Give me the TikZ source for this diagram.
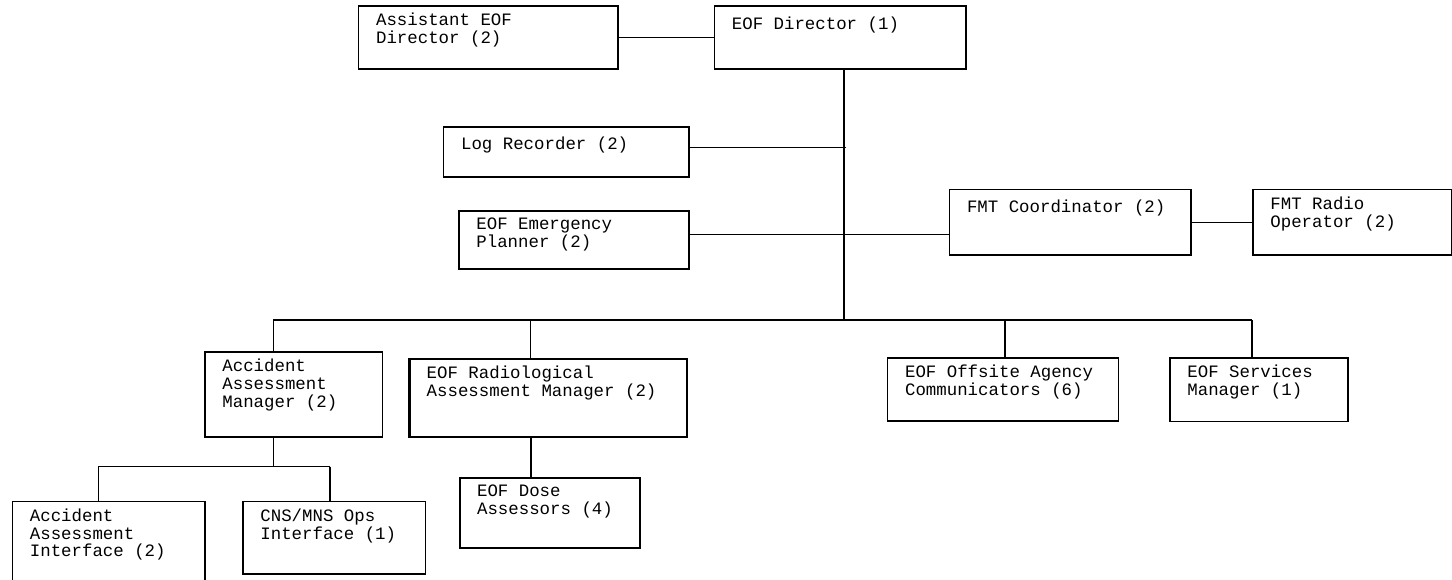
\documentclass[tikz,border=0pt]{standalone}
\usepackage{fontspec}
\setmonofont{Liberation Mono}
\usetikzlibrary{positioning}

\begin{document}
\begin{tikzpicture}[x=0.5pt,y=-0.5pt]
  \tikzstyle{unit}=[rectangle,draw=black,line width=0.75pt,anchor=north west,inner sep=0pt]
  \tikzstyle{heavy}=[unit,line width=1.1pt]
  \tikzstyle{tag}=[anchor=north west,align=left,inner sep=0pt,xshift=9pt,yshift=-3.75pt,font=\ttfamily\fontsize{8.7pt}{8.9pt}\selectfont,execute at begin node={\rule{0pt}{8pt}}]
  \tikzstyle{link}=[line width=0.6pt]
  \tikzstyle{trunkline}=[line width=0.75pt]

  \useasboundingbox (0,0) rectangle (1452,579);

  \begin{scope}
    % top row
    \node [unit,minimum width=129.8pt,minimum height=31.5pt,label={[tag]north west:Assistant EOF\\Director (2)}] (asst) at (357.7,5.3) {};
    \node [unit,minimum width=125.75pt,minimum height=31.5pt,label={[tag]north west:EOF Director (1)}] (dir) at (713.5,5.3) {};
    % staff
    \node [unit,minimum width=122.65pt,minimum height=25pt,label={[tag]north west:Log Recorder (2)}] (log) at (442.7,126) {};
    \node [unit,minimum width=115pt,minimum height=29pt,label={[tag]north west:EOF Emergency\\Planner (2)}] (plan) at (458,210) {};
    \node [unit,minimum width=120.7pt,minimum height=32.65pt,label={[tag]north west:FMT Coordinator (2)}] (fmt) at (948.6,188.7) {};
    \node [unit,minimum width=99.5pt,minimum height=32.65pt,label={[tag]north west:FMT Radio\\Operator (2)}] (radio) at (1252,188.7) {};
    % managers
    \node [unit,minimum width=88.85pt,minimum height=42.5pt,label={[tag]north west:Accident\\Assessment\\Manager (2)}] (aam) at (204,351) {};
    \node [heavy,minimum width=138.85pt,minimum height=39pt,label={[tag]north west:EOF Radiological\\Assessment Manager (2)}] (ram) at (408.3,358) {};
    \node [unit,minimum width=115.5pt,minimum height=31.35pt,label={[tag]north west:EOF Offsite Agency\\Communicators (6)}] (agency) at (886.7,357.3) {};
    \node [unit,minimum width=89pt,minimum height=31.85pt,label={[tag]north west:EOF Services\\Manager (1)}] (svc) at (1169,357) {};
    % bottom row
    \node [unit,minimum width=96.4pt,minimum height=45pt,label={[tag]north west:Accident\\Assessment\\Interface (2)}] (aai) at (11.5,500.7) {};
    \node [unit,minimum width=91.35pt,minimum height=36.3pt,label={[tag]north west:CNS/MNS Ops\\Interface (1)}] (cns) at (242,500.7) {};
    \node [heavy,minimum width=90.15pt,minimum height=35.15pt,label={[tag]north west:EOF Dose\\Assessors (4)}] (dose) at (458.7,476.7) {};
  \end{scope}

  \coordinate (trunk) at (843.9,320);
  \coordinate (logtap) at (845.7,147.3);
  \coordinate (plantap) at (843.9,234.3);
  \coordinate (busL) at (273.3,320);
  \coordinate (busR) at (1252,320);
  \coordinate (tapram) at (530.7,320);
  \coordinate (tapagency) at (1005,320);
  \coordinate (subM) at (273.3,466.7);
  \coordinate (subL) at (98.3,466.7);
  \coordinate (subR) at (330,466.7);

  \begin{scope}
    \draw [link] (asst.east) -- (asst.east -| dir.west);
    \draw [trunkline] (dir.south -| trunk) -- (trunk);
    \draw [link] (logtap -| log.east) -- (logtap);
    \draw [link] (plantap -| plan.east) -- (plantap -| fmt.west);
    \draw [link] (fmt.east) -- (fmt.east -| radio.west);
    \draw [trunkline] (busL) -- (busR);
    \draw [link] (busL) -- (busL |- aam.north);
    \draw [trunkline] (tapram) -- (tapram |- ram.north);
    \draw [link] (tapagency) -- (tapagency |- agency.north);
    \draw [link] (busR) -- (busR |- svc.north);
    \draw [link] (aam.south -| subM) -- (subM);
    \draw [link] (subL) -- (subR);
    \draw [link] (subL) -- (subL |- aai.north);
    \draw [link] (subR) -- (subR |- cns.north);
    \draw [heavy] (ram.south -| tapram) -- (dose.north -| tapram);
  \end{scope}
\end{tikzpicture}
\end{document}
